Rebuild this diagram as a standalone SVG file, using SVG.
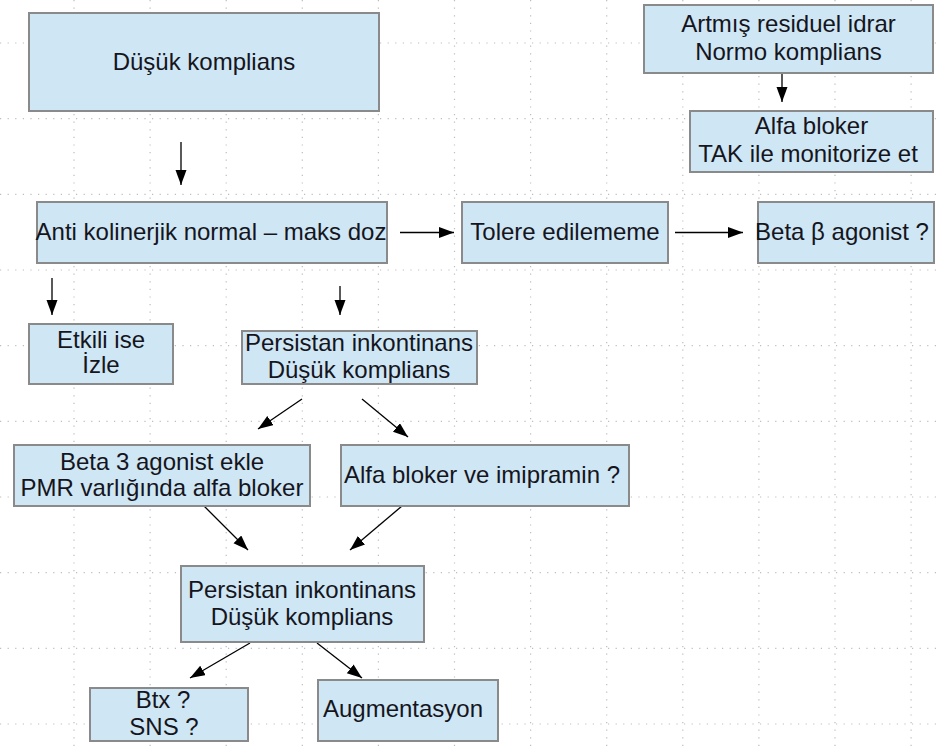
<svg xmlns="http://www.w3.org/2000/svg" width="937" height="746" viewBox="0 0 937 746">
<defs>
<style>
.g{stroke:#bdbdbd;stroke-width:1.2;stroke-dasharray:1.2 6.4;fill:none}
.b{fill:#cfe6f4;stroke:#8a8a8a;stroke-width:2}
.t{font-family:"Liberation Sans",Arial,sans-serif;font-size:24px;fill:#151520;text-anchor:middle}
.c{stroke:#000;stroke-width:1.3;fill:none;marker-end:url(#ah)}
</style>
<marker id="ah" markerUnits="userSpaceOnUse" markerWidth="16" markerHeight="12" refX="15" refY="5.5" orient="auto">
<path d="M0,0 L15,5.5 L0,11 z" fill="#000"/>
</marker>
</defs>
<rect width="937" height="746" fill="#fff"/>
<g id="grid">
<path class="g" d="M74,0V746M150.1,0V746M226.2,0V746M302.3,0V746M378.4,0V746M454.5,0V746M530.6,0V746M606.7,0V746M682.8,0V746M758.9,0V746M835,0V746M911.1,0V746"/>
<path class="g" d="M0,43H937M0,118.7H937M0,194.3H937M0,270H937M0,345.7H937M0,421.3H937M0,497H937M0,572.7H937M0,648.3H937M0,724H937"/>
</g>
<g id="connectors">
<line class="c" x1="181" y1="142" x2="181" y2="185"/>
<line class="c" x1="782" y1="73" x2="782" y2="102"/>
<line class="c" x1="400" y1="232.5" x2="454" y2="232.5"/>
<line class="c" x1="675" y1="232.5" x2="743" y2="232.5"/>
<line class="c" x1="52" y1="278" x2="52" y2="315"/>
<line class="c" x1="340" y1="286" x2="340" y2="315"/>
<line class="c" x1="302" y1="399" x2="258" y2="429"/>
<line class="c" x1="362" y1="399" x2="408" y2="437"/>
<line class="c" x1="204" y1="506" x2="248" y2="550"/>
<line class="c" x1="402" y1="506" x2="350" y2="550"/>
<line class="c" x1="250" y1="643" x2="190" y2="678"/>
<line class="c" x1="317" y1="643" x2="362" y2="678"/>
</g>
<g id="n1"><rect class="b" x="29" y="13" width="350" height="98"/><text class="t" x="204" y="70">Düşük komplians</text></g>
<g id="n2"><rect class="b" x="644" y="5" width="289" height="68"/><text class="t" x="788.5" y="32">Artmış residuel idrar</text><text class="t" x="788.5" y="60">Normo komplians</text></g>
<g id="n3"><rect class="b" x="690" y="111" width="243" height="61"/><text class="t" x="811.5" y="134">Alfa bloker</text><text class="t" x="808" y="162">TAK ile monitorize et</text></g>
<g id="n4"><rect class="b" x="37" y="202" width="350" height="61"/><text class="t" x="211" y="240">Anti kolinerjik normal – maks doz</text></g>
<g id="n5"><rect class="b" x="462" y="202" width="206" height="61"/><text class="t" x="565" y="240">Tolere edilememe</text></g>
<g id="n6"><rect class="b" x="758" y="202" width="176" height="61"/><text class="t" x="842" y="240">Beta β agonist ?</text></g>
<g id="n7"><rect class="b" x="29" y="324" width="144" height="60"/><text class="t" x="101" y="348">Etkili ise</text><text class="t" x="101" y="373">İzle</text></g>
<g id="n8"><rect class="b" x="242" y="331" width="235" height="53"/><text class="t" x="359" y="351">Persistan inkontinans</text><text class="t" x="359" y="378">Düşük komplians</text></g>
<g id="n9"><rect class="b" x="14" y="445" width="296" height="61"/><text class="t" x="162" y="470">Beta 3 agonist ekle</text><text class="t" x="162" y="496">PMR varlığında alfa bloker</text></g>
<g id="n10"><rect class="b" x="341" y="445" width="288" height="61"/><text class="t" x="482" y="483">Alfa bloker ve imipramin ?</text></g>
<g id="n11"><rect class="b" x="181" y="566" width="243" height="76"/><text class="t" x="302" y="598">Persistan inkontinans</text><text class="t" x="302" y="625">Düşük komplians</text></g>
<g id="n12"><rect class="b" x="90" y="688" width="158" height="53"/><text class="t" x="163" y="708">Btx ?</text><text class="t" x="164" y="735">SNS ?</text></g>
<g id="n13"><rect class="b" x="318" y="680" width="180" height="61"/><text class="t" x="403" y="717">Augmentasyon</text></g>
</svg>
